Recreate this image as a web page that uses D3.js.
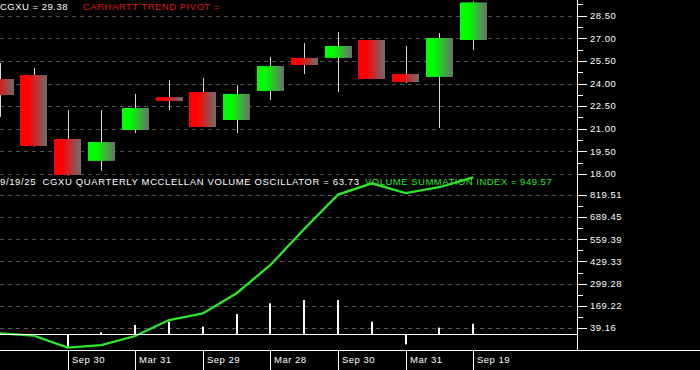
<!DOCTYPE html>
<html>
<head>
<meta charset="utf-8">
<script src="https://cdn.jsdelivr.net/npm/d3@7"></script>
<style>
  body { margin: 0; background: #000; }
  svg { display: block; }
  text { font-family: "Liberation Sans", Arial, sans-serif; font-size: 9.5px; letter-spacing: 0.5px; }
</style>
</head>
<body>
<svg id="chart"></svg>
<script>
// quarterly candles, CGXU
const quarters = ["Mar 31", "Jun 30", "Sep 30", "Dec 30", "Mar 31", "Jun 30", "Sep 29", "Dec 29",
  "Mar 28", "Jun 28", "Sep 30", "Dec 31", "Mar 31", "Jun 30", "Sep 19"]
const opens  = [24.30, 24.56, 20.32, 18.87, 20.92, 23.10, 23.44, 21.58, 23.51, 25.70, 25.70, 26.89, 24.63, 24.44, 26.89]
const highs  = [25.36, 25.03, 22.24, 22.24, 23.31, 24.24, 24.37, 23.90, 25.76, 26.69, 27.42, 26.89, 26.49, 27.35, 29.45]
const lows   = [21.78, 19.82, 17.90, 18.20, 20.72, 22.24, 21.12, 20.72, 22.91, 24.63, 23.44, 24.30, 24.04, 21.05, 26.23]
const closes = [23.24, 19.86, 17.94, 20.12, 22.38, 22.84, 21.12, 23.31, 25.16, 25.23, 26.49, 24.30, 24.10, 27.02, 29.38]

// volume summation index (line) and mcclellan volume oscillator (bars)
const vsi = [8, -6, -76, -61, -8, 86, 125, 243, 409, 620, 822, 888, 831, 865, 923]
const osc = [null, null, -71, 14, 57, 76, 47, 121, 184, 203, 203, 76, -57, 41, 63.73]

const priceTicks = [18.00, 19.50, 21.00, 22.50, 24.00, 25.50, 27.00, 28.50]
const volTicks = [39.16, 169.22, 299.28, 429.33, 559.39, 689.45, 819.51]

const width = 700
const height = 370
const plotRight = 577

const svg = d3.select('svg#chart').attr('width', width).attr('height', height)

const x = d3.scaleLinear().domain([0, 17.07]).range([0, plotRight])
const yPrice = d3.scaleLinear().domain([18, 28.5]).range([174, 15.7])
const yVol = d3.scaleLinear().domain([0, 819.51]).range([334.67, 195])

// gradients for candle bodies
const defs = svg.append('defs')
const grad = (id, c) => {
  const g = defs.append('linearGradient').attr('id', id).attr('x1', 0).attr('x2', 1).attr('y1', 0).attr('y2', 0)
  g.append('stop').attr('offset', 0).attr('stop-color', c)
  g.append('stop').attr('offset', 0.3).attr('stop-color', c)
  g.append('stop').attr('offset', 1).attr('stop-color', '#6e6e6e')
}
grad('up', '#00ff00')
grad('down', '#ff0000')

defs.append('clipPath').attr('id', 'plot-clip')
  .append('rect').attr('x', 0).attr('y', 0).attr('width', plotRight).attr('height', 350)

// grid lines
const grid = svg.append('g')
grid.selectAll('line.p').data(priceTicks).enter().append('line')
  .attr('x1', 0).attr('x2', plotRight)
  .attr('y1', d => Math.round(yPrice(d)) + 0.5).attr('y2', d => Math.round(yPrice(d)) + 0.5)
  .attr('stroke', '#555').attr('stroke-dasharray', '4,4')
grid.selectAll('line.v').data(volTicks).enter().append('line')
  .attr('x1', 0).attr('x2', plotRight)
  .attr('y1', d => Math.round(yVol(d)) + 0.5).attr('y2', d => Math.round(yVol(d)) + 0.5)
  .attr('stroke', '#555').attr('stroke-dasharray', '4,4')

const plot = svg.append('g').attr('clip-path', 'url(#plot-clip)')

// candles
const idx = d3.range(quarters.length)
const bw = 27
plot.selectAll('line.wick').data(idx).enter().append('line')
  .attr('x1', i => Math.round(x(i)) + 0.5).attr('x2', i => Math.round(x(i)) + 0.5)
  .attr('y1', i => yPrice(highs[i])).attr('y2', i => yPrice(lows[i]))
  .attr('stroke', '#d8d8d8').attr('stroke-width', 1)
plot.selectAll('rect.body').data(idx).enter().append('rect')
  .attr('x', i => Math.round(x(i) - bw / 2))
  .attr('width', bw)
  .attr('y', i => yPrice(Math.max(opens[i], closes[i])))
  .attr('height', i => Math.max(2, Math.abs(yPrice(opens[i]) - yPrice(closes[i]))))
  .attr('fill', i => closes[i] >= opens[i] ? 'url(#up)' : 'url(#down)')

// oscillator bars
const barIdx = idx.filter(i => osc[i] !== null)
plot.selectAll('rect.osc').data(barIdx).enter().append('rect')
  .attr('x', i => Math.round(x(i)) - 1)
  .attr('width', 2)
  .attr('y', i => Math.min(yVol(0), yVol(osc[i])))
  .attr('height', i => Math.abs(yVol(osc[i]) - yVol(0)))
  .attr('fill', '#fff')

// zero line
svg.append('line').attr('x1', 0).attr('x2', plotRight)
  .attr('y1', 334.5).attr('y2', 334.5).attr('stroke', '#fff')

// vsi line
plot.append('path').datum(idx)
  .attr('d', d3.line().x(i => x(i)).y(i => yVol(vsi[i])))
  .attr('fill', 'none').attr('stroke', '#2ee62a').attr('stroke-width', 2.3)

// right axis
const axisG = svg.append('g')
axisG.append('line').attr('x1', plotRight + 0.5).attr('x2', plotRight + 0.5)
  .attr('y1', 0).attr('y2', 350).attr('stroke', '#fff')

const priceMinor = priceTicks.map(d => d + 0.75)
const volMinor = volTicks.slice(0, -1).map(d => d + 65.03)
axisG.selectAll('line.pmaj').data(priceTicks).enter().append('line')
  .attr('x1', plotRight).attr('x2', plotRight + 10)
  .attr('y1', d => Math.round(yPrice(d)) + 0.5).attr('y2', d => Math.round(yPrice(d)) + 0.5).attr('stroke', '#fff')
axisG.selectAll('line.pmin').data(priceMinor).enter().append('line')
  .attr('x1', plotRight).attr('x2', plotRight + 6)
  .attr('y1', d => Math.round(yPrice(d)) + 0.5).attr('y2', d => Math.round(yPrice(d)) + 0.5).attr('stroke', '#fff')
axisG.selectAll('line.vmaj').data(volTicks).enter().append('line')
  .attr('x1', plotRight).attr('x2', plotRight + 10)
  .attr('y1', d => Math.round(yVol(d)) + 0.5).attr('y2', d => Math.round(yVol(d)) + 0.5).attr('stroke', '#fff')
axisG.selectAll('line.vmin').data(volMinor).enter().append('line')
  .attr('x1', plotRight).attr('x2', plotRight + 6)
  .attr('y1', d => Math.round(yVol(d)) + 0.5).attr('y2', d => Math.round(yVol(d)) + 0.5).attr('stroke', '#fff')

axisG.selectAll('text.p').data(priceTicks).enter().append('text')
  .attr('x', 590).attr('y', d => yPrice(d)).attr('dy', '0.35em')
  .attr('fill', '#fff').text(d => d.toFixed(2))
axisG.selectAll('text.v').data(volTicks).enter().append('text')
  .attr('x', 590).attr('y', d => yVol(d)).attr('dy', '0.35em')
  .attr('fill', '#fff').text(d => d.toFixed(2))

// bottom date axis
svg.append('line').attr('x1', 0).attr('x2', width).attr('y1', 350.5).attr('y2', 350.5).attr('stroke', '#fff')
const labelIdx = idx.filter(i => i % 2 === 0 && i > 0)
svg.selectAll('line.sep').data(labelIdx).enter().append('line')
  .attr('x1', i => Math.round(x(i)) + 0.5).attr('x2', i => Math.round(x(i)) + 0.5)
  .attr('y1', 350).attr('y2', height).attr('stroke', '#fff')
svg.selectAll('text.date').data(labelIdx).enter().append('text')
  .attr('x', i => Math.round(x(i)) + 4).attr('y', 363)
  .attr('fill', '#fff').text(i => quarters[i])

// header texts
svg.append('text').attr('x', 0).attr('y', 10).attr('fill', '#fff').text('CGXU = 29.38')
svg.append('text').attr('x', 83).attr('y', 10).attr('fill', '#e01515').text('CARHARTT TREND PIVOT =')
svg.append('text').attr('x', 0).attr('y', 185).attr('fill', '#fff').style('letter-spacing', '0.62px')
  .attr('xml:space', 'preserve').text('9/19/25  CGXU QUARTERLY MCCLELLAN VOLUME OSCILLATOR = 63.73')
svg.append('text').attr('x', 365).attr('y', 185).attr('fill', '#2ee62a').text('VOLUME SUMMATION INDEX = 949.57')
</script>
</body>
</html>
